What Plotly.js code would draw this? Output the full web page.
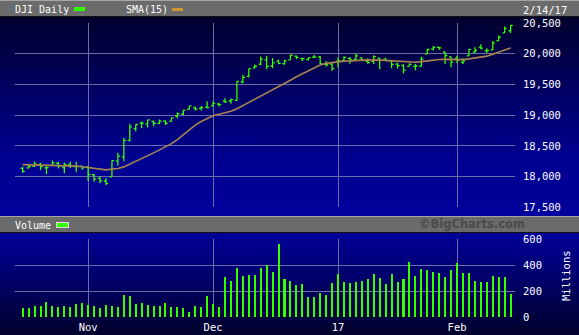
<!DOCTYPE html>
<html><head><meta charset="utf-8">
<script src="https://cdn.plot.ly/plotly-3.0.1.min.js"></script>
<style>
html,body{margin:0;padding:0;background:#000;}
#wrap{position:relative;width:579px;height:335px;overflow:hidden;}
.bg{position:absolute;left:0;width:579px;}
#topbar{top:0;height:16px;background:#6b6b6b;border-top:1px solid #a5a5a5;box-sizing:border-box;}
#topline{top:16px;height:1px;background:#111;}
#pricebg{top:17px;height:199px;background:linear-gradient(to bottom,#00002c 0%,#000060 35%,#000090 70%,#00009c 100%);}
#volbar{top:216px;height:16px;background:#6b6b6b;border-top:1px solid #a5a5a5;box-sizing:border-box;}
#volline{top:232px;height:1px;background:#111;}
#volbg{top:233px;height:102px;background:linear-gradient(to bottom,#000098 0%,#00006a 45%,#00002a 100%);}
.box{position:absolute;}
#chart{position:absolute;left:0;top:0;width:579px;height:335px;}
</style></head>
<body>
<div id="wrap">
<div class="bg" id="topbar"></div><div class="bg" id="topline"></div>
<div class="bg" id="pricebg"></div>
<div class="bg" id="volbar"></div><div class="bg" id="volline"></div>
<div class="bg" id="volbg"></div>
<div class="box" style="left:74px;top:7px;width:11px;height:4px;background:#33ff00;"></div>
<div class="box" style="left:172px;top:8px;width:11px;height:3px;background:#cc9933;"></div>
<div class="box" style="left:56px;top:222px;width:11px;height:4px;background:#33ff00;border:1px solid #e0e0e0;"></div>
<div id="chart"></div>
</div>
<script>
var dates = ['2016-10-17','2016-10-18','2016-10-19','2016-10-20','2016-10-21','2016-10-24','2016-10-25','2016-10-26','2016-10-27','2016-10-28','2016-10-31',
'2016-11-01','2016-11-02','2016-11-03','2016-11-04','2016-11-07','2016-11-08','2016-11-09','2016-11-10','2016-11-11','2016-11-14','2016-11-15','2016-11-16','2016-11-17','2016-11-18','2016-11-21','2016-11-22','2016-11-23','2016-11-25','2016-11-28','2016-11-29','2016-11-30',
'2016-12-01','2016-12-02','2016-12-05','2016-12-06','2016-12-07','2016-12-08','2016-12-09','2016-12-12','2016-12-13','2016-12-14','2016-12-15','2016-12-16','2016-12-19','2016-12-20','2016-12-21','2016-12-22','2016-12-23','2016-12-27','2016-12-28','2016-12-29','2016-12-30',
'2017-01-03','2017-01-04','2017-01-05','2017-01-06','2017-01-09','2017-01-10','2017-01-11','2017-01-12','2017-01-13','2017-01-17','2017-01-18','2017-01-19','2017-01-20','2017-01-23','2017-01-24','2017-01-25','2017-01-26','2017-01-27','2017-01-30','2017-01-31',
'2017-02-01','2017-02-02','2017-02-03','2017-02-06','2017-02-07','2017-02-08','2017-02-09','2017-02-10','2017-02-13','2017-02-14'];

var openP = [18135,18142,18168,18198,18141,18182,18217,18148,18200,18161,18169,
18158,18030,17972,17928,17994,18251,18317,18590,18780,18870,18858,18900,18866,18905,18898,18980,19015,19093,19120,19110,19130,
19150,19180,19230,19230,19241,19540,19630,19770,19830,19900,19800,19880,19840,19900,19960,19920,19905,19943,19950,19830,19830,
19873,19890,19924,19906,19931,19876,19876,19927,19912,19880,19830,19808,19795,19795,19795,19994,20076,20105,20028,19950,
19923,19858,19964,20025,20107,20049,20061,20211,20338,20374];

var highP = [18162,18210,18247,18226,18177,18263,18237,18226,18242,18242,18177,
18173,18037,18000,17977,18262,18387,18630,18860,18848,18897,18925,18912,18930,18915,18960,19045,19084,19153,19140,19150,19226,
19225,19200,19275,19270,19550,19658,19757,19826,19953,19966,19930,19900,19900,19987,19970,19935,19935,19981,19964,19880,19860,
19938,19957,19948,19999,19944,19926,19974,19929,19935,19880,19852,19830,19843,19833,19950,20082,20126,20115,20028,19950,
19967,19927,20081,20107,20155,20088,20206,20298,20441,20468];

var lowP = [18061,18126,18155,18103,18040,18182,18131,18055,18140,18070,18113,
17930,17915,17890,17860,17994,18177,18250,18574,18735,18790,18800,18820,18850,18840,18898,18950,19001,19093,19076,19074,19110,
19140,19140,19200,19185,19230,19519,19611,19760,19812,19748,19765,19830,19820,19900,19915,19880,19890,19930,19832,19790,19719,
19776,19890,19835,19888,19887,19837,19832,19749,19880,19762,19758,19678,19795,19732,19795,19994,20054,20061,19832,19781,
19846,19832,19964,20010,20068,20006,20061,20211,20338,20338];

var closeP = [18086,18162,18203,18162,18146,18223,18169,18199,18170,18161,18142,
18037,17960,17931,17888,18260,18333,18590,18808,18848,18869,18923,18868,18904,18868,18957,19024,19083,19152,19098,19122,19124,
19192,19170,19216,19252,19550,19615,19757,19796,19911,19793,19852,19843,19883,19975,19942,19919,19934,19945,19834,19820,19763,
19882,19942,19899,19964,19887,19856,19954,19891,19886,19827,19805,19732,19827,19800,19913,20069,20101,20094,19971,19864,
19891,19885,20071,20052,20090,20054,20172,20269,20412,20460];

var sma15 = [18195,18193,18192,18190,18188,18186,18183,18180,18176,18170,18160,
18148,18136,18122,18109,18121,18132,18158,18201,18248,18291,18341,18386,18435,18482,18536,18602,18677,18758,18839,18897,18949,
18989,19014,19038,19064,19105,19155,19212,19260,19315,19365,19415,19462,19512,19568,19625,19675,19725,19775,19815,19843,19858,
19870,19880,19882,19893,19896,19896,19901,19896,19892,19886,19877,19863,19862,19861,19871,19884,19894,19907,19908,19906,
19908,19904,19916,19927,19944,19961,19990,20020,20061,20095];

var volume = [67,67,83,83,114,83,75,83,75,99,106,
91,83,67,91,83,75,169,161,99,106,91,83,83,106,75,75,67,36,83,75,161,
99,75,309,278,379,317,325,325,379,400,348,566,293,278,247,255,153,153,184,169,262,
332,270,262,270,278,293,332,301,255,332,270,293,426,317,371,364,348,340,309,364,
418,340,340,278,270,270,317,309,309,177];

var priceTicks = [17500,18000,18500,19000,19500,20000,20500];
var volTicks = [0,200,400,600];
var monthTickVals = ['2016-11-01','2016-12-01','2017-01-03','2017-02-01'];
var monthTickText = ['Nov','Dec','17','Feb'];

var GREEN = '#33ff00', GRID = '#6c6ca8';
var mono = 'DejaVu Sans Mono';
var L=15, R=515, T=23, B=317;
function px(x){return (x-L)/(R-L);}
function py(y){return (B-y)/(B-T);}

var traces = [
 {type:'ohlc', x:dates, open:openP, high:highP, low:lowP, close:closeP,
  increasing:{line:{color:GREEN,width:1.3}}, decreasing:{line:{color:GREEN,width:1.3}},
  tickwidth:0.36, xaxis:'x', yaxis:'y', hoverinfo:'skip', showlegend:false},
 {type:'scatter', mode:'lines', x:dates, y:sma15, line:{color:'#a8834f',width:1.6},
  xaxis:'x', yaxis:'y', hoverinfo:'skip', showlegend:false},
 {type:'bar', x:dates, y:volume, marker:{color:GREEN,line:{width:0}}, width:0.34,
  xaxis:'x2', yaxis:'y2', hoverinfo:'skip', showlegend:false}
];

var xr = [-1.29, 82.74];
var axFont = {family:mono, size:10.5, color:'#ffffff'};
var layout = {
 width:579, height:335,
 margin:{l:L, r:579-R, t:T, b:335-B, pad:0},
 paper_bgcolor:'rgba(0,0,0,0)', plot_bgcolor:'rgba(0,0,0,0)',
 showlegend:false, bargap:0,
 xaxis:{type:'category', categoryorder:'array', categoryarray:dates, range:xr,
   anchor:'y', tickvals:monthTickVals, showticklabels:false, ticks:'',
   showgrid:true, gridcolor:GRID, gridwidth:1, zeroline:false, showline:false,
   rangeslider:{visible:false}, fixedrange:true},
 xaxis2:{type:'category', categoryorder:'array', categoryarray:dates, range:xr,
   anchor:'y2', tickvals:monthTickVals, ticktext:monthTickText, ticks:'',
   tickfont:axFont, showgrid:true, gridcolor:GRID, gridwidth:1, zeroline:false, showline:false,
   ticklabelstandoff:2, fixedrange:true},
 yaxis:{domain:[py(207.3),1], range:[17500,20500], side:'right', anchor:'x',
   tickvals:priceTicks, tickformat:',d', tickfont:axFont, ticks:'',
   showgrid:true, gridcolor:GRID, gridwidth:1, zeroline:false, showline:false,
   ticklabelstandoff:7, fixedrange:true},
 yaxis2:{domain:[0,py(239.3)], range:[0,600], side:'right', anchor:'x2',
   tickvals:volTicks, tickfont:axFont, ticks:'',
   showgrid:true, gridcolor:GRID, gridwidth:1, zeroline:false, showline:false,
   ticklabelstandoff:7, fixedrange:true},
 annotations:[
  {text:'DJI Daily', xref:'paper', yref:'paper', x:px(13), y:py(9.5), xanchor:'left', yanchor:'middle', showarrow:false, font:{family:mono,size:10,color:'#ffffff'}},
  {text:'SMA(15)', xref:'paper', yref:'paper', x:px(124), y:py(9.5), xanchor:'left', yanchor:'middle', showarrow:false, font:{family:mono,size:10,color:'#ffffff'}},
  {text:'2/14/17', xref:'paper', yref:'paper', x:px(521), y:py(9.5), xanchor:'left', yanchor:'middle', showarrow:false, font:{family:mono,size:10.5,color:'#ffffff'}},
  {text:'Volume', xref:'paper', yref:'paper', x:px(13), y:py(225.5), xanchor:'left', yanchor:'middle', showarrow:false, font:{family:mono,size:10,color:'#ffffff'}},
  {text:'©BigCharts.com', xref:'paper', yref:'paper', x:px(472), y:py(224), xanchor:'center', yanchor:'middle', showarrow:false, font:{family:'DejaVu Sans',size:11.5,color:'#4a4a4a',weight:'bold'}},
  {text:'Millions', xref:'paper', yref:'paper', x:px(566), y:py(276), xanchor:'center', yanchor:'middle', textangle:-90, showarrow:false, font:{family:mono,size:10.5,color:'#ffffff'}}
 ]
};
Plotly.newPlot('chart', traces, layout, {displayModeBar:false, staticPlot:true});
</script>
</body></html>
